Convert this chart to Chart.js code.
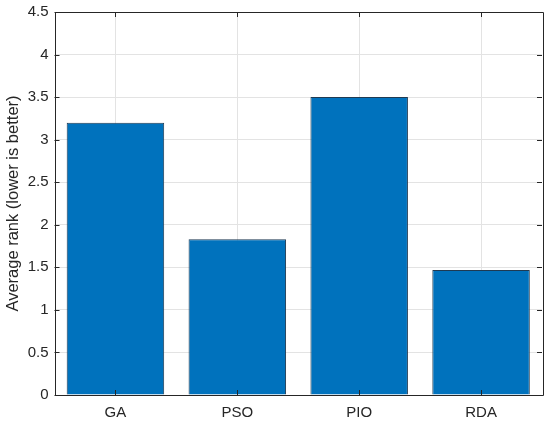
<!DOCTYPE html>
<html><head><meta charset="utf-8">
<script src="https://cdn.jsdelivr.net/npm/chart.js@4"></script>
<style>html,body{margin:0;padding:0;background:#fff}#wrap{width:550px;height:424px}</style>
</head><body><div id="wrap"><canvas id="c" width="550" height="424"></canvas></div>
<script>
const categories = ['GA', 'PSO', 'PIO', 'RDA'];
const avgRank = [3.2, 1.83, 3.5, 1.47];
const yTickValues = [0, 0.5, 1, 1.5, 2, 2.5, 3, 3.5, 4, 4.5];
const yTitle = 'Average rank (lower is better)';

const axisColor = '#262626';
const FONT = "'Liberation Sans', Arial, Helvetica, sans-serif";

const boxAndTicks = {
  id: 'boxAndTicks',
  afterDatasetsDraw(chart) {
    const {ctx, chartArea: a, scales: {x, y}} = chart;
    ctx.save();
    ctx.strokeStyle = axisColor;
    ctx.lineWidth = 1;
    ctx.beginPath();
    ctx.rect(Math.round(a.left) + 0.5, Math.round(a.top) + 0.5, Math.round(a.right - a.left), Math.round(a.bottom - a.top));
    const L = 5;
    y.ticks.forEach((t) => {
      const py = Math.round(y.getPixelForValue(t.value)) + 0.5;
      ctx.moveTo(a.left, py); ctx.lineTo(a.left + L, py);
      ctx.moveTo(a.right, py); ctx.lineTo(a.right - L, py);
    });
    x.ticks.forEach((t, i) => {
      const px = Math.round(x.getPixelForTick(i)) + 0.5;
      ctx.moveTo(px, a.bottom); ctx.lineTo(px, a.bottom - L);
      ctx.moveTo(px, a.top); ctx.lineTo(px, a.top + L);
    });
    ctx.stroke();
    ctx.restore();
  }
};

new Chart(document.getElementById('c'), {
  type: 'bar',
  data: {
    labels: categories,
    datasets: [{
      data: avgRank,
      backgroundColor: '#0072BD',
      borderColor: '#1f3a52',
      borderWidth: 1,
      categoryPercentage: 1.0,
      barPercentage: 0.8
    }]
  },
  options: {
    responsive: false,
    animation: false,
    layout: {padding: {top: 0, right: 8, left: 4, bottom: 0}},
    plugins: {legend: {display: false}, tooltip: {enabled: false}},
    scales: {
      x: {
        grid: {color: '#e3e3e3', drawTicks: false, offset: false},
        border: {display: false},
        ticks: {color: axisColor, font: {family: FONT, size: 15}, padding: 9},
        afterFit(s) { s.height = 29; }
      },
      y: {
        min: 0, max: 4.5,
        afterBuildTicks(s) { s.ticks = yTickValues.map(v => ({value: v})); },
        grid: {color: '#e3e3e3', drawTicks: false},
        border: {display: false},
        ticks: {color: axisColor, font: {family: FONT, size: 15}, padding: 6,
          callback: v => String(v)},
        title: {display: true, text: yTitle, color: axisColor, font: {family: FONT, size: 16.5}, padding: {top: 0, bottom: 4}},
        afterFit(s) { s.width = 50.5; s.paddingTop = 12; }
      }
    }
  },
  plugins: [boxAndTicks]
});
</script></body></html>
